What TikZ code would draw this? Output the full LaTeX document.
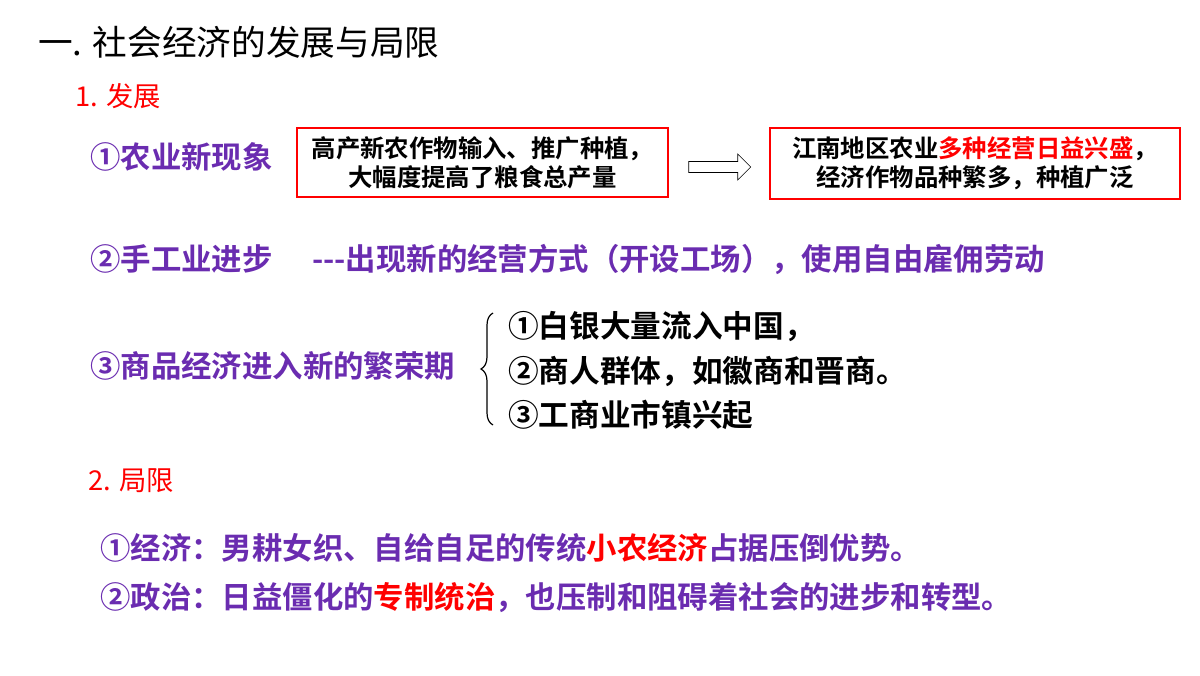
\documentclass[tikz,border=0pt]{standalone}
\usepackage{fontspec}
\newfontfamily\cjk{Noto Sans CJK SC}
\newfontfamily\cjkb{Noto Sans CJK SC}[BoldFont={* Bold}]
\usetikzlibrary{shapes.arrows,decorations.pathreplacing}
\definecolor{pur}{HTML}{6A2CB0}
\definecolor{rd}{HTML}{FF0000}
\begin{document}
\begin{tikzpicture}[x=0.75pt,y=-0.75pt,
  item/.style={anchor=west,inner sep=0,font=\cjkb\bfseries\fontsize{22.8}{26}\selectfont,text=pur},
  sub/.style={anchor=west,inner sep=0,font=\cjkb\bfseries\fontsize{23}{26}\selectfont,text=black},
  head/.style={anchor=west,inner sep=0,font=\cjk\fontsize{20.5}{24}\selectfont,text=rd},
  box/.style={draw=rd,line width=0.8pt,inner sep=0,font=\cjkb\bfseries\fontsize{18.3}{22}\selectfont,align=center}]
\useasboundingbox (0,0) rectangle (1200,675);
\node[anchor=west,inner sep=0,font=\cjk\fontsize{26}{30}\selectfont] (t) at (38,42) {一. 社会经济的发展与局限};
\node[head] (h1) at (75,96) {1. 发展};
\node[item] (a) at (90,157) {①农业新现象};
\node[box,minimum width=371*0.75pt,minimum height=69*0.75pt] (b1) at (482.5,162.5) {高产新农作物输入、推广种植，\\大幅度提高了粮食总产量};
\node[box,minimum width=410*0.75pt,minimum height=71*0.75pt] (b2) at (975,163.5) {江南地区农业\textcolor{rd}{多种经营日益兴盛}，\\经济作物品种繁多，种植广泛};
\node[single arrow,draw,thin,minimum height=62*0.75pt,minimum width=26*0.75pt,single arrow head extend=3pt,inner sep=2pt] (ar) at (717,167) {};
\node[item] (c) at (90,259) {②手工业进步\hspace{1.3em}---出现新的经营方式（开设工场），使用自由雇佣劳动};
\node[item] (d) at (90,366) {③商品经济进入新的繁荣期};
\draw[line width=0.9pt,decorate,decoration={brace,amplitude=9pt}] (493,425) -- (493,313);
\node[sub] (s1) at (508,327) {①白银大量流入中国，};
\node[sub] (s2) at (508,372) {②商人群体，如徽商和晋商。};
\node[sub] (s3) at (508,415) {③工商业市镇兴起};
\node[head] (h2) at (88,481) {2. 局限};
\node[item] (e) at (100,548) {①经济：男耕女织、自给自足的传统\textcolor{rd}{小农经济}占据压倒优势。};
\node[item] (f) at (100,598) {②政治：日益僵化的\textcolor{rd}{专制统治}，也压制和阻碍着社会的进步和转型。};
\end{tikzpicture}
\end{document}
